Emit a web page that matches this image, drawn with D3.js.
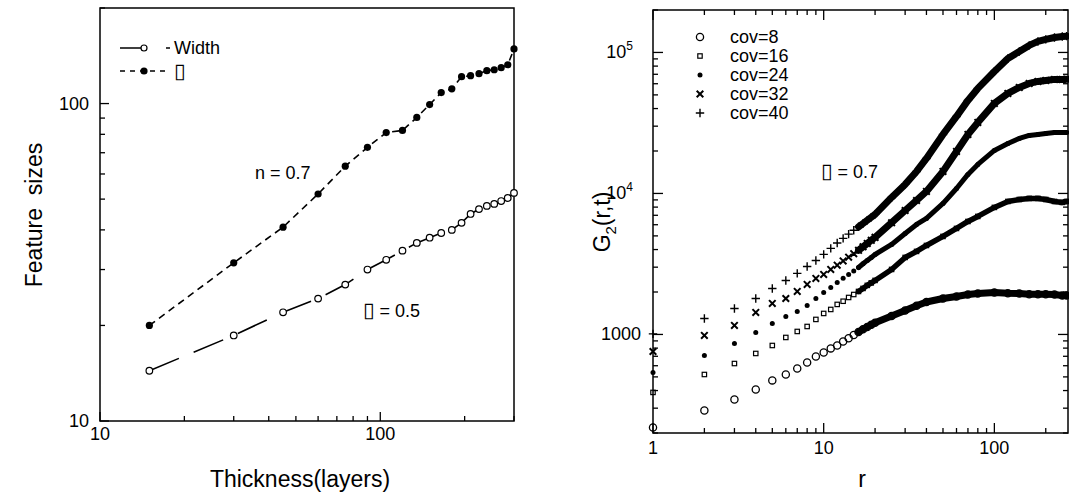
<!DOCTYPE html>
<html><head><meta charset="utf-8">
<script src="https://cdn.jsdelivr.net/npm/d3@7"></script>
<style>body{margin:0;background:#fff}svg{font-family:"Liberation Sans",Arial,Helvetica,sans-serif}.tofu{font-family:"DejaVu Sans";font-size:21px}</style>
</head><body><svg id="c" width="1069" height="496"></svg>
<script>
// ---------- Left panel data ----------
const thickness=[15,30,45,60,75,90,105,120,135,150,165,180,195,210,225,240,255,270,285,300];
const widthVals=[14.4,18.6,22.0,24.3,26.9,30.0,32.2,34.4,36.4,37.8,39.1,40.0,42.1,44.9,46.5,47.6,48.3,49.3,50.4,52.3];
const lambdaVals=[20,31.5,40.8,51.9,63.5,72.8,81,82.3,90.4,99.3,108.3,111.3,121.5,122.4,124.2,126.9,127.8,129.7,132.5,148.6];
const leftXTickLabels=["10","100"];
const leftYTickLabels=["10","100"];
// ---------- Right panel data ----------
const rVals=[1,2,3,4,5,6,7,8,9,10,11,12,13,14,15,16,17,18,19,20,25,30,35,40,50,60,70,80,100,120,140,160,180,200,225,250,265];
const cov8=[219,289,346,407,472,520,574,632,698,745,796,835,892,940,990,1040,1090,1130,1170,1210,1350,1480,1600,1700,1800,1860,1920,1950,1985,1960,1955,1930,1925,1925,1920,1890,1890];
const cov16=[388,520,622,733,835,952,1050,1139,1278,1409,1504,1633,1720,1829,1920,2018,2120,2228,2320,2416,2891,3516,3880,4276,4955,5646,6328,6871,7960,8775,9060,9220,9220,9060,8775,8640,8775];
const cov24=[537,710,863,1033,1197,1342,1456,1606,1799,1986,2155,2336,2500,2664,2820,2985,3170,3350,3520,3690,4347,5200,6026,6650,8490,10840,13640,16070,20180,22630,24550,25780,26200,26650,27100,27100,27100];
const cov32=[757,984,1158,1433,1659,1799,2018,2264,2495,2664,2890,3100,3320,3530,3740,3950,4180,4420,4650,4880,6200,7570,8915,10330,14320,19860,26200,31900,43500,51200,56500,60300,62300,63300,64400,64400,64600];
const cov40=[1010,1298,1528,1799,2119,2415,2709,3035,3347,3700,4080,4450,4800,5150,5480,5800,6120,6450,6780,7100,9370,11590,14320,17710,26200,35160,45700,55580,73300,90600,101600,112200,119700,123700,127700,129800,130500];
const seriesNames=["cov=8","cov=16","cov=24","cov=32","cov=40"];
const rightXTickLabels=["1","10","100"];
const rightYTickLabels=["1000","10","10"];

const svg=d3.select("#c");
const FONT=18;

function minorTicks(lo,hi){
  const out=[];
  for(let p=Math.floor(Math.log10(lo));p<=Math.ceil(Math.log10(hi));p++){
    for(let k=1;k<10;k++){const v=k*Math.pow(10,p); if(v>=lo*0.999&&v<=hi*1.001) out.push({v,major:k===1});}
  }
  return out;
}

// ================= LEFT PANEL =================
const xL=d3.scaleLog().domain([10,300]).range([100,514]);
const yL=d3.scaleLog().domain([10,200]).range([421,8]);
const gL=svg.append("g");
gL.append("rect").attr("x",100).attr("y",8).attr("width",414).attr("height",413)
  .attr("fill","none").attr("stroke","#000").attr("stroke-width",1.5);
minorTicks(10,300).forEach(t=>{
  const L=t.major?9:5;
  gL.append("line").attr("x1",xL(t.v)).attr("x2",xL(t.v)).attr("y1",421).attr("y2",421-L).attr("stroke","#000").attr("stroke-width",1.3);
});
minorTicks(10,200).forEach(t=>{
  const L=t.major?9:5;
  gL.append("line").attr("y1",yL(t.v)).attr("y2",yL(t.v)).attr("x1",100).attr("x2",100+L).attr("stroke","#000").attr("stroke-width",1.3);
});
[10,100].forEach((v,i)=>{
  gL.append("text").attr("x",xL(v)).attr("y",440).attr("text-anchor","middle").attr("font-size",FONT).text(leftXTickLabels[i]);
  gL.append("text").attr("x",89).attr("y",yL(v)+6).attr("text-anchor","end").attr("font-size",FONT).text(leftYTickLabels[i]);
});
const lineL=(vals)=>d3.line().x((d,i)=>xL(thickness[i])).y(d=>yL(d))(vals);
gL.append("path").attr("d",lineL(widthVals)).attr("fill","none").attr("stroke","#000").attr("stroke-width",1.6).attr("stroke-dasharray","32,16");
gL.append("path").attr("d",lineL(lambdaVals)).attr("fill","none").attr("stroke","#000").attr("stroke-width",1.6).attr("stroke-dasharray","7,5");
gL.selectAll("circle.w").data(widthVals).join("circle").attr("cx",(d,i)=>xL(thickness[i])).attr("cy",d=>yL(d)).attr("r",3.3)
  .attr("fill","#fff").attr("stroke","#000").attr("stroke-width",1.2);
gL.selectAll("circle.l").data(lambdaVals).join("circle").attr("cx",(d,i)=>xL(thickness[i])).attr("cy",d=>yL(d)).attr("r",3.6)
  .attr("fill","#000");
// legend
gL.append("line").attr("x1",120).attr("x2",170).attr("y1",48).attr("y2",48).attr("stroke","#000").attr("stroke-width",1.5).attr("stroke-dasharray","26,20");
gL.append("circle").attr("cx",144).attr("cy",48).attr("r",3).attr("fill","#fff").attr("stroke","#000").attr("stroke-width",1.2);
gL.append("text").attr("x",174).attr("y",54).attr("font-size",FONT).text("Width");
gL.append("line").attr("x1",120).attr("x2",170).attr("y1",71).attr("y2",71).attr("stroke","#000").attr("stroke-width",1.5).attr("stroke-dasharray","5,5");
gL.append("circle").attr("cx",144).attr("cy",71).attr("r",3.6).attr("fill","#000");
gL.append("text").attr("x",174).attr("y",78).attr("class","tofu").text("\u25AF");
gL.append("text").attr("x",255).attr("y",179).attr("font-size",FONT).text("n = 0.7");
const t05=gL.append("text").attr("x",363).attr("y",317).attr("font-size",FONT);
t05.append("tspan").attr("class","tofu").text("\u25AF");
t05.append("tspan").text(" = 0.5");
gL.append("text").attr("x",300).attr("y",487).attr("text-anchor","middle").attr("font-size",23).text("Thickness(layers)");
gL.append("text").attr("transform","translate(42,215) rotate(-90)").attr("text-anchor","middle").attr("font-size",23)
  .attr("xml:space","preserve").style("white-space","pre").text("Feature  sizes");

// ================= RIGHT PANEL =================
const xR=d3.scaleLog().domain([1,270]).range([653,1068]);
const yR=d3.scaleLog().domain([200,200000]).range([433,10]);
const gR=svg.append("g");
gR.append("rect").attr("x",653).attr("y",10).attr("width",415).attr("height",423)
  .attr("fill","none").attr("stroke","#000").attr("stroke-width",1.5);
minorTicks(1,270).forEach(t=>{
  const L=t.major?10:5, X=xR(t.v);
  gR.append("line").attr("x1",X).attr("x2",X).attr("y1",433).attr("y2",433-L).attr("stroke","#000").attr("stroke-width",1.3);
  gR.append("line").attr("x1",X).attr("x2",X).attr("y1",10).attr("y2",10+L).attr("stroke","#000").attr("stroke-width",1.3);
});
minorTicks(200,200000).forEach(t=>{
  const L=t.major?10:5, Y=yR(t.v);
  gR.append("line").attr("y1",Y).attr("y2",Y).attr("x1",653).attr("x2",653+L).attr("stroke","#000").attr("stroke-width",1.3);
  gR.append("line").attr("y1",Y).attr("y2",Y).attr("x1",1068).attr("x2",1068-L).attr("stroke","#000").attr("stroke-width",1.3);
});
[1,10,100].forEach((v,i)=>{
  gR.append("text").attr("x",xR(v)).attr("y",454).attr("text-anchor","middle").attr("font-size",FONT).text(rightXTickLabels[i]);
});
[1000,10000,100000].forEach((v,i)=>{
  const t=gR.append("text").attr("x",i===0?641:633).attr("y",yR(v)+6).attr("text-anchor","end").attr("font-size",FONT);
  t.append("tspan").text(rightYTickLabels[i]);
  if(i>0) t.append("tspan").attr("font-size",12).attr("dy",-8).text(i===1?"4":"5");
});

const allSeries=[cov8,cov16,cov24,cov32,cov40];
const marker={
  circle:(g,x,y)=>g.append("circle").attr("cx",x).attr("cy",y).attr("r",3.6).attr("fill","none").attr("stroke","#000").attr("stroke-width",1.3),
  square:(g,x,y)=>g.append("rect").attr("x",x-2.2).attr("y",y-2.2).attr("width",4.4).attr("height",4.4).attr("fill","none").attr("stroke","#000").attr("stroke-width",1.2),
  dot:(g,x,y)=>g.append("circle").attr("cx",x).attr("cy",y).attr("r",2.5).attr("fill","#000"),
  cross:(g,x,y)=>g.append("path").attr("d",`M${x-3.3},${y-3.3}L${x+3.3},${y+3.3}M${x-3.3},${y+3.3}L${x+3.3},${y-3.3}`).attr("stroke","#000").attr("stroke-width",2),
  plus:(g,x,y)=>g.append("path").attr("d",`M${x-4.2},${y}H${x+4.2}M${x},${y-4.2}V${y+4.2}`).attr("stroke","#000").attr("stroke-width",1.4)
};
const mk=["circle","square","dot","cross","plus"];
const bandW=[7,5.5,5,7,7];
allSeries.forEach((vals,si)=>{
  const pts=rVals.map((r,i)=>({r,v:vals[i]}));
  const band=pts.filter(p=>p.r>=16);
  gR.append("path").attr("d",d3.line().x(p=>xR(p.r)).y(p=>yR(p.v))(band))
    .attr("fill","none").attr("stroke","#000").attr("stroke-width",bandW[si]).attr("stroke-linecap","round").attr("stroke-linejoin","round");
  pts.forEach(p=>marker[mk[si]](gR,xR(p.r),yR(p.v)));
});
// legend
seriesNames.forEach((n,i)=>{
  const y=37+i*19;
  marker[mk[i]](gR,700,y);
  gR.append("text").attr("x",730).attr("y",y+6).attr("font-size",FONT).text(n);
});
const t07=gR.append("text").attr("x",821).attr("y",178).attr("font-size",FONT);
t07.append("tspan").attr("class","tofu").text("\u25AF");
t07.append("tspan").text(" = 0.7");
gR.append("text").attr("x",862).attr("y",487).attr("text-anchor","middle").attr("font-size",23).text("r");
const gt=gR.append("text").attr("transform","translate(610,222) rotate(-90)").attr("text-anchor","middle").attr("font-size",23);
gt.append("tspan").text("G");
gt.append("tspan").attr("font-size",15).attr("dy",6).text("2");
gt.append("tspan").attr("dy",-6).text("(r,t)");
</script></body></html>
